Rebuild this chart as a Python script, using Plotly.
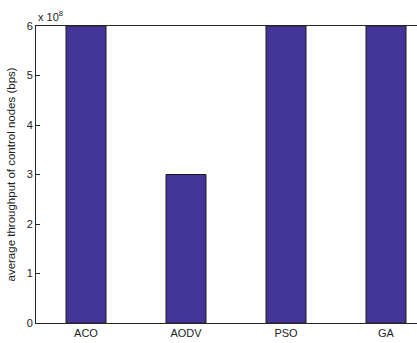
import plotly.graph_objects as go

# Average throughput of control nodes per routing scheme (bps)
protocols = ["ACO", "AODV", "PSO", "GA"]
throughput_bps = [6e8, 3e8, 6e8, 6e8]
y_tick_vals = [0, 1e8, 2e8, 3e8, 4e8, 5e8, 6e8]
y_tick_text = ["0", "1", "2", "3", "4", "5", "6"]

positions = list(range(1, len(protocols) + 1))

fig = go.Figure(
    go.Bar(
        x=positions,
        y=throughput_bps,
        width=0.4,
        marker=dict(color="#443699", line=dict(color="#1a1a1a", width=1)),
    )
)

family = "Liberation Sans, Arial, sans-serif"
font = dict(family=family, size=11, color="#222222")

fig.update_layout(
    width=417,
    height=343,
    margin=dict(l=36, r=0, t=26, b=20),
    paper_bgcolor="white",
    plot_bgcolor="white",
    showlegend=False,
    font=font,
    xaxis=dict(
        range=[0.5, 4.31],
        tickmode="array",
        tickvals=positions,
        ticktext=protocols,
        ticks="",
        showgrid=False,
        zeroline=False,
        showline=True,
        linecolor="#262626",
        linewidth=1,
        mirror=True,
        tickfont=font,
    ),
    yaxis=dict(
        range=[0, 6e8],
        tickmode="array",
        tickvals=y_tick_vals,
        ticktext=y_tick_text,
        ticks="inside",
        ticklen=4,
        tickcolor="#262626",
        showgrid=False,
        zeroline=False,
        showline=True,
        linecolor="#262626",
        linewidth=1,
        tickfont=font,
    ),
    annotations=[
        dict(
            text="average throughput of control nodes (bps)",
            xref="paper", yref="paper", x=0, y=0.5,
            xshift=-26, textangle=-90,
            xanchor="center", yanchor="middle",
            showarrow=False, font=dict(family=family, size=11.5, color="#222222"),
        ),
        dict(
            text="x 10<sup>8</sup>",
            xref="paper", yref="paper", x=0, y=1,
            xanchor="left", yanchor="bottom", yshift=1,
            showarrow=False, font=font,
        ),
    ],
)

fig.write_html("out.html")
